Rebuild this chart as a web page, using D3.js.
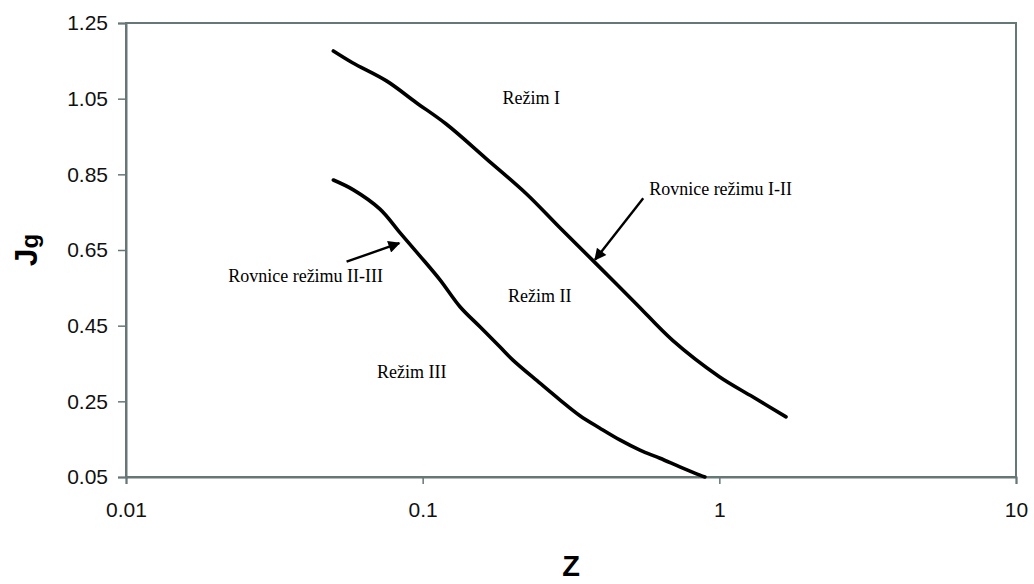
<!DOCTYPE html>
<html>
<head>
<meta charset="utf-8">
<script src="https://cdn.jsdelivr.net/npm/d3@7"></script>
<style>
  html, body { margin: 0; padding: 0; background: #fff; }
  svg { display: block; }
</style>
</head>
<body>
<svg id="chart" width="1034" height="584"></svg>
<script>
// ---- data ----
const xTicks = [0.01, 0.1, 1, 10];
const xTickLabels = ["0.01", "0.1", "1", "10"];
const yTicks = [0.05, 0.25, 0.45, 0.65, 0.85, 1.05, 1.25];
const yTickLabels = ["0.05", "0.25", "0.45", "0.65", "0.85", "1.05", "1.25"];

// Boundary I-II
const upperZ = [0.05, 0.058, 0.0755, 0.095, 0.12, 0.164, 0.224, 0.289, 0.384, 0.524, 0.696, 1.0, 1.295, 1.678];
const upperJ = [1.176, 1.145, 1.097, 1.040, 0.983, 0.891, 0.798, 0.710, 0.614, 0.508, 0.411, 0.315, 0.262, 0.209];
// Boundary II-III
const lowerZ = [0.05, 0.0584, 0.0718, 0.0838, 0.098, 0.1144, 0.1336, 0.156, 0.182, 0.2015, 0.2485, 0.290, 0.339, 0.396, 0.462, 0.540, 0.631, 0.736, 0.860, 0.894];
const lowerJ = [0.835, 0.809, 0.758, 0.696, 0.634, 0.571, 0.500, 0.447, 0.394, 0.359, 0.298, 0.254, 0.212, 0.179, 0.148, 0.121, 0.0995, 0.077, 0.055, 0.05];

// Annotations (data coordinates)
const labelTexts = ["Režim I", "Rovnice režimu I-II", "Režim II", "Režim III", "Rovnice režimu II-III"];
const labelZ = [0.186, 0.580, 0.194, 0.0702, 0.0221];
const labelJ = [1.036, 0.795, 0.513, 0.312, 0.566];

const arrowFromZ = [0.554, 0.0554];
const arrowFromJ = [0.787, 0.619];
const arrowToZ = [0.381, 0.0834];
const arrowToJ = [0.624, 0.668];

// ---- layout ----
const svg = d3.select("#chart");
const pLeft = 126, pRight = 1016, pTop = 23, pBottom = 477;
const axisColor = "#667777";

const x = d3.scaleLog().domain([0.01, 10]).range([pLeft, pRight]);
const y = d3.scaleLinear().domain([0.05, 1.25]).range([pBottom, pTop]);

// frame
svg.append("rect")
  .attr("x", pLeft).attr("y", pTop)
  .attr("width", pRight - pLeft).attr("height", pBottom - pTop)
  .attr("fill", "none").attr("stroke", axisColor).attr("stroke-width", 2);

// y axis
const yAxis = d3.axisLeft(y).tickValues(yTicks)
  .tickFormat((d, i) => yTickLabels[i]).tickSizeOuter(0).tickSize(8).tickPadding(10);
const gy = svg.append("g").attr("transform", `translate(${pLeft},0)`).call(yAxis);
gy.select(".domain").attr("stroke", axisColor).attr("stroke-width", 2);
gy.selectAll(".tick line").attr("stroke", axisColor).attr("stroke-width", 1.5);
gy.selectAll(".tick text").attr("font-family", "'Liberation Sans', Arial, sans-serif")
  .attr("font-size", 21).attr("fill", "#111");

// x axis
const xAxis = d3.axisBottom(x).tickValues(xTicks)
  .tickFormat((d, i) => xTickLabels[i]).tickSizeOuter(0).tickSize(7).tickPadding(18);
const gx = svg.append("g").attr("transform", `translate(0,${pBottom})`).call(xAxis);
gx.select(".domain").attr("stroke", axisColor).attr("stroke-width", 2);
gx.selectAll(".tick line").attr("stroke", axisColor).attr("stroke-width", 1.5);
gx.selectAll(".tick text").attr("font-family", "'Liberation Sans', Arial, sans-serif")
  .attr("font-size", 21).attr("fill", "#111");

// curves
const line = d3.line().x(d => x(d[0])).y(d => y(d[1])).curve(d3.curveCatmullRom.alpha(0.5));
const upper = upperZ.map((z, i) => [z, upperJ[i]]);
const lower = lowerZ.map((z, i) => [z, lowerJ[i]]);
[upper, lower].forEach(pts => {
  svg.append("path").datum(pts).attr("d", line)
    .attr("fill", "none").attr("stroke", "#000").attr("stroke-width", 3.6)
    .attr("stroke-linecap", "round").attr("stroke-linejoin", "round");
});

// arrows
svg.append("defs").append("marker")
  .attr("id", "ah").attr("viewBox", "0 0 10 10").attr("refX", 9).attr("refY", 5)
  .attr("markerWidth", 6).attr("markerHeight", 5).attr("markerUnits", "strokeWidth")
  .attr("orient", "auto")
  .append("path").attr("d", "M0,0 L10,5 L0,10 z").attr("fill", "#000");

arrowFromZ.forEach((z, i) => {
  svg.append("line")
    .attr("x1", x(z)).attr("y1", y(arrowFromJ[i]))
    .attr("x2", x(arrowToZ[i])).attr("y2", y(arrowToJ[i]))
    .attr("stroke", "#000").attr("stroke-width", 2.4)
    .attr("marker-end", "url(#ah)");
});

// labels
labelTexts.forEach((t, i) => {
  svg.append("text")
    .attr("x", x(labelZ[i])).attr("y", y(labelJ[i]))
    .attr("font-family", "'Liberation Serif', 'Times New Roman', serif")
    .attr("font-size", 18).attr("fill", "#000")
    .text(t);
});

// axis titles
const yTitle = svg.append("text")
  .attr("transform", "translate(37,250) rotate(-90)")
  .attr("text-anchor", "middle")
  .attr("font-family", "'Liberation Sans', Arial, sans-serif")
  .attr("font-weight", "bold").attr("fill", "#000");
yTitle.append("tspan").attr("font-size", 32).text("J");
yTitle.append("tspan").attr("font-size", 24).attr("dy", 1).text("g");

svg.append("text")
  .attr("x", (pLeft + pRight) / 2).attr("y", 576)
  .attr("text-anchor", "middle")
  .attr("font-family", "'Liberation Sans', Arial, sans-serif")
  .attr("font-weight", "bold").attr("font-size", 29).attr("fill", "#000")
  .text("Z");
</script>
</body>
</html>
